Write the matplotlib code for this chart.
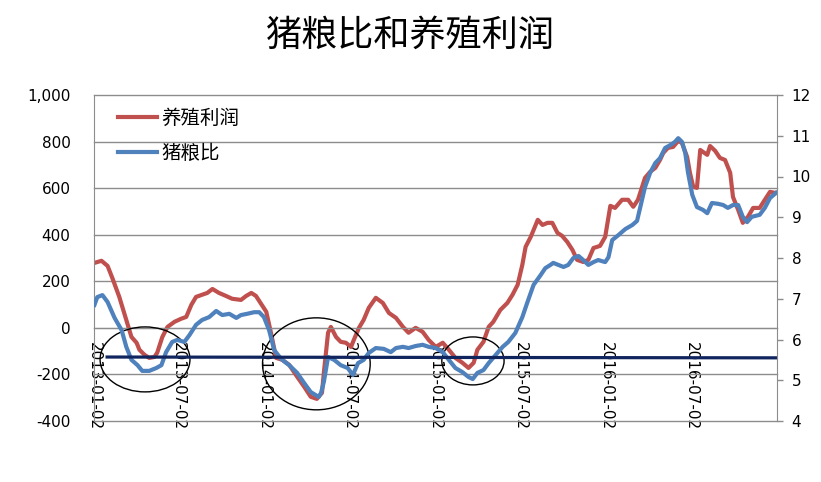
import matplotlib
matplotlib.use("Agg")
import matplotlib.pyplot as plt
import matplotlib.dates as mdates
from matplotlib.patches import Ellipse
import pandas as pd

# 养殖利润 (left axis)
profit_dates = ['2013-01-03', '2013-01-18', '2013-01-31', '2013-02-10', '2013-02-25', '2013-03-12',
                '2013-03-23', '2013-04-03', '2013-04-09', '2013-04-20', '2013-04-30', '2013-05-11',
                '2013-05-17', '2013-05-28', '2013-06-08', '2013-06-23', '2013-07-07', '2013-07-18',
                '2013-07-29', '2013-08-08', '2013-08-21', '2013-09-01', '2013-09-12', '2013-09-26',
                '2013-10-11', '2013-10-24', '2013-11-12', '2013-11-23', '2013-12-04', '2013-12-14',
                '2013-12-25', '2014-01-05', '2014-01-15', '2014-01-26', '2014-02-08', '2014-02-23',
                '2014-03-12', '2014-03-27', '2014-04-10', '2014-04-23', '2014-05-04', '2014-05-08',
                '2014-05-17', '2014-05-23', '2014-06-03', '2014-06-13', '2014-06-24', '2014-07-05',
                '2014-07-11', '2014-07-22', '2014-08-01', '2014-08-12', '2014-08-27', '2014-09-11',
                '2014-09-24', '2014-10-09', '2014-10-24', '2014-11-05', '2014-11-20', '2014-12-05',
                '2014-12-18', '2015-01-02', '2015-01-17', '2015-01-30', '2015-02-13', '2015-02-28',
                '2015-03-13', '2015-03-24', '2015-04-01', '2015-04-14', '2015-04-25', '2015-05-05',
                '2015-05-20', '2015-06-04', '2015-06-15', '2015-06-26', '2015-07-06', '2015-07-13',
                '2015-07-24', '2015-08-08', '2015-08-18', '2015-08-29', '2015-09-08', '2015-09-19',
                '2015-09-29', '2015-10-10', '2015-10-21', '2015-10-31', '2015-11-13', '2015-11-24',
                '2015-12-05', '2015-12-19', '2015-12-30', '2016-01-10', '2016-01-20', '2016-02-04',
                '2016-02-17', '2016-02-28', '2016-03-09', '2016-03-24', '2016-04-04', '2016-04-15',
                '2016-04-25', '2016-05-02', '2016-05-12', '2016-05-23', '2016-06-03', '2016-06-11',
                '2016-06-22', '2016-06-28', '2016-07-05', '2016-07-13', '2016-07-20', '2016-08-04',
                '2016-08-10', '2016-08-21', '2016-08-31', '2016-09-11', '2016-09-22', '2016-09-28',
                '2016-10-09', '2016-10-19', '2016-10-30', '2016-11-10', '2016-11-24', '2016-12-05',
                '2016-12-16', '2016-12-26']
profit = [279, 288, 266, 215, 133, 34, -39, -64, -94, -116, -129, -125,
          -107, -39, 4, 26, 39, 47, 99, 133, 142, 150, 167, 150,
          137, 125, 120, 137, 150, 137, 103, 69, -21, -129, -137, -159,
          -210, -253, -296, -305, -279, -193, -21, 4, -39, -60, -64, -82,
          -52, 0, 34, 86, 129, 107, 64, 43, 4, -21, 0, -17,
          -52, -82, -64, -94, -129, -150, -172, -150, -94, -60, 4, 26,
          77, 107, 142, 185, 271, 348, 391, 464, 442, 451, 451, 408,
          395, 369, 335, 292, 283, 292, 343, 352, 391, 524, 515, 550,
          550, 520, 550, 644, 670, 687, 721, 751, 773, 777, 803, 794,
          734, 666, 606, 601, 764, 743, 781, 760, 730, 721, 666, 562,
          507, 451, 477, 515, 515, 550, 584, 580]

# 猪粮比 (right axis)
ratio_dates = ['2013-01-03', '2013-01-09', '2013-01-20', '2013-01-31', '2013-02-15', '2013-03-02',
               '2013-03-12', '2013-03-23', '2013-04-05', '2013-04-15', '2013-04-30', '2013-05-15',
               '2013-05-26', '2013-06-05', '2013-06-18', '2013-06-29', '2013-07-14', '2013-07-25',
               '2013-08-08', '2013-08-21', '2013-09-05', '2013-09-20', '2013-10-03', '2013-10-18',
               '2013-11-02', '2013-11-12', '2013-11-25', '2013-12-10', '2013-12-21', '2013-12-31',
               '2014-01-11', '2014-01-22', '2014-02-06', '2014-02-23', '2014-03-12', '2014-03-27',
               '2014-04-10', '2014-04-27', '2014-05-02', '2014-05-08', '2014-05-17', '2014-05-30',
               '2014-06-13', '2014-06-28', '2014-07-09', '2014-07-20', '2014-08-01', '2014-08-12',
               '2014-08-27', '2014-09-13', '2014-09-28', '2014-10-09', '2014-10-24', '2014-11-05',
               '2014-11-20', '2014-12-05', '2014-12-18', '2015-01-02', '2015-01-17', '2015-01-30',
               '2015-02-13', '2015-02-28', '2015-03-13', '2015-03-22', '2015-04-01', '2015-04-14',
               '2015-04-25', '2015-05-10', '2015-05-25', '2015-06-06', '2015-06-21', '2015-07-06',
               '2015-07-17', '2015-07-30', '2015-08-14', '2015-08-24', '2015-09-04', '2015-09-10',
               '2015-09-21', '2015-10-02', '2015-10-12', '2015-10-23', '2015-11-03', '2015-11-13',
               '2015-11-24', '2015-12-05', '2015-12-15', '2015-12-30', '2016-01-06', '2016-01-14',
               '2016-01-27', '2016-02-11', '2016-02-26', '2016-03-07', '2016-03-14', '2016-03-24',
               '2016-04-04', '2016-04-15', '2016-04-25', '2016-05-06', '2016-05-17', '2016-05-27',
               '2016-06-03', '2016-06-11', '2016-06-18', '2016-06-24', '2016-07-03', '2016-07-13',
               '2016-07-26', '2016-08-04', '2016-08-14', '2016-08-27', '2016-09-07', '2016-09-17',
               '2016-09-28', '2016-10-09', '2016-10-19', '2016-10-28', '2016-11-07', '2016-11-24',
               '2016-12-05', '2016-12-16', '2016-12-29']
ratio = [6.85, 7.04, 7.09, 6.92, 6.53, 6.23, 5.82, 5.50, 5.37, 5.23, 5.23, 5.30,
         5.37, 5.69, 5.94, 5.99, 5.94, 6.11, 6.36, 6.48, 6.55, 6.70, 6.60, 6.63,
         6.53, 6.60, 6.63, 6.67, 6.67, 6.55, 6.23, 5.74, 5.52, 5.37, 5.18, 4.93,
         4.71, 4.59, 4.69, 4.96, 5.57, 5.50, 5.37, 5.30, 5.13, 5.42, 5.50, 5.67,
         5.79, 5.77, 5.69, 5.79, 5.82, 5.79, 5.84, 5.87, 5.82, 5.79, 5.69, 5.50,
         5.30, 5.20, 5.08, 5.03, 5.18, 5.25, 5.42, 5.62, 5.82, 5.94, 6.16, 6.55,
         6.92, 7.34, 7.58, 7.75, 7.83, 7.88, 7.83, 7.78, 7.83, 8.00, 8.05, 7.95,
         7.83, 7.90, 7.95, 7.90, 8.02, 8.44, 8.56, 8.71, 8.81, 8.91, 9.25, 9.74,
         10.09, 10.33, 10.45, 10.70, 10.77, 10.85, 10.94, 10.85, 10.58, 10.09, 9.55, 9.25,
         9.18, 9.10, 9.35, 9.33, 9.30, 9.23, 9.30, 9.30, 9.01, 8.88, 9.01, 9.06,
         9.23, 9.47, 9.60]

# 盈亏平衡线 (right axis) and highlighted troughs (left axis: start, end, low, high)
breakeven_dates = ['2013-01-30', '2016-12-31']
breakeven = [5.57, 5.55]
troughs = [('2013-01-15', '2013-07-26', -275, 4),
           ('2013-12-28', '2014-08-15', -352, 43),
           ('2015-01-15', '2015-05-28', -245, -39)]

tick_dates = ['2013-01-02', '2013-07-02', '2014-01-02', '2014-07-02',
              '2015-01-02', '2015-07-02', '2016-01-02', '2016-07-02']

RED = '#C0504D'
BLUE = '#4F81BD'
NAVY = '#10245E'
GRID = '#8C8C8C'
CJK = ['Noto Sans CJK SC', 'DejaVu Sans']

plt.rcParams['font.family'] = ['DejaVu Sans']

fig = plt.figure(figsize=(8.21, 4.82), dpi=100)
ax = fig.add_axes([94 / 821, 1 - 421 / 482, 683 / 821, 326 / 482])
ax2 = ax.twinx()

l1, = ax.plot(pd.to_datetime(profit_dates), profit, color=RED, lw=3, solid_joinstyle='round')
l2, = ax2.plot(pd.to_datetime(ratio_dates), ratio, color=BLUE, lw=3, solid_joinstyle='round')
ax2.plot(pd.to_datetime(breakeven_dates), breakeven, color=NAVY, lw=2.3)

for s, e, lo, hi in troughs:
    s_n = mdates.date2num(pd.Timestamp(s))
    e_n = mdates.date2num(pd.Timestamp(e))
    ell = Ellipse(((s_n + e_n) / 2, (lo + hi) / 2), e_n - s_n, hi - lo,
                  transform=ax.transData, fill=False, edgecolor='black', lw=1)
    ax2.add_patch(ell)

ax.set_xlim(pd.Timestamp('2013-01-02'), pd.Timestamp('2016-12-31'))
ax.set_ylim(-400, 1000)
ax.set_yticks(range(-400, 1001, 200))
ax.set_yticklabels([f'{v:,}' for v in range(-400, 1001, 200)])
ax2.set_ylim(4, 12)
ax2.set_yticks(range(4, 13))

ax.grid(axis='y', color=GRID, lw=1)
for gl in ax.get_ygridlines():
    gl.set_clip_on(False)
ax.set_axisbelow(True)
for sp in ['top']:
    ax.spines[sp].set_visible(False)
    ax2.spines[sp].set_visible(False)
ax.spines['bottom'].set_position(('data', 0))
ax.spines['bottom'].set_color(GRID)
ax2.spines['bottom'].set_visible(False)
ax.spines['left'].set_color(GRID)
ax.spines['right'].set_visible(False)
ax2.spines['left'].set_visible(False)
ax2.spines['right'].set_color(GRID)

ax.set_xticks(pd.to_datetime(tick_dates))
ax.set_xticklabels(tick_dates, rotation=270)
ax.tick_params(axis='x', length=0, pad=10, labelsize=11)
ax.tick_params(axis='y', length=0, pad=17, labelsize=11)
ax2.tick_params(axis='y', length=4.5, width=1, color=GRID, pad=6, labelsize=11)

leg = ax2.legend([l1, l2], ['养殖利润', '猪粮比'], loc='upper left',
                 bbox_to_anchor=(0.035, 0.96), frameon=False, borderpad=0,
                 borderaxespad=0, handlelength=2.0, handletextpad=0.25,
                 labelspacing=0.7, prop={'family': CJK, 'size': 14})

fig.text(0.5, 1 - 36 / 482, '猪粮比和养殖利润', ha='center', va='center',
         fontsize=26, fontweight='medium', family=CJK)

fig.savefig('out.png', dpi=100)
